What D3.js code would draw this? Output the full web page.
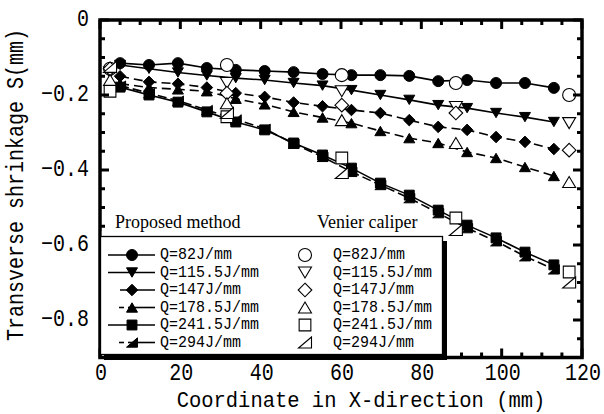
<!DOCTYPE html>
<html><head><meta charset="utf-8">
<script src="https://cdn.jsdelivr.net/npm/d3@7"></script>
<style>body{margin:0;background:#fff}svg{display:block}</style>
</head><body>
<svg id="c" width="604" height="414"></svg>
<script>
// ---- data ----
const xProposed = [5, 12.2, 19.4, 26.6, 33.8, 41, 48.2, 55.4, 62.6, 69.8, 77, 84.2, 91.4, 98.6, 105.8, 113];
const q82   = [-0.115, -0.12, -0.115, -0.128, -0.133, -0.136, -0.139, -0.144, -0.147, -0.147, -0.149, -0.163, -0.160, -0.168, -0.168, -0.181];
const q115  = [-0.12, -0.13, -0.14, -0.148, -0.155, -0.16, -0.168, -0.175, -0.187, -0.2, -0.213, -0.227, -0.235, -0.248, -0.259, -0.272];
const q147  = [-0.15, -0.165, -0.17, -0.18, -0.195, -0.205, -0.22, -0.23, -0.24, -0.248, -0.267, -0.285, -0.293, -0.312, -0.325, -0.344];
const q178  = [-0.17, -0.18, -0.185, -0.19, -0.21, -0.225, -0.245, -0.26, -0.275, -0.296, -0.315, -0.328, -0.352, -0.368, -0.392, -0.416];
const q241  = [-0.179, -0.2, -0.219, -0.245, -0.272, -0.293, -0.328, -0.36, -0.395, -0.435, -0.467, -0.507, -0.547, -0.581, -0.619, -0.653];
const q294  = [-0.175, -0.195, -0.215, -0.24, -0.265, -0.29, -0.33, -0.365, -0.405, -0.44, -0.475, -0.515, -0.555, -0.59, -0.63, -0.665];
const xVenier = [2.5, 31.6, 60.2, 88.6, 116.8];
const v82   = [-0.13, -0.12, -0.147, -0.168, -0.2];
const v115  = [-0.14, -0.168, -0.19, -0.232, -0.275];
const v147  = [-0.13, -0.195, -0.227, -0.248, -0.347];
const v178  = [-0.16, -0.222, -0.267, -0.328, -0.432];
const v241  = [-0.19, -0.258, -0.368, -0.528, -0.672];
const v294  = [-0.125, -0.248, -0.408, -0.56, -0.70];
const seriesLabels = ["Q=82J/mm", "Q=115.5J/mm", "Q=147J/mm", "Q=178.5J/mm", "Q=241.5J/mm", "Q=294J/mm"];
const xTicks = [0, 20, 40, 60, 80, 100, 120];
const yTicks = [0, -0.2, -0.4, -0.6, -0.8];
const yTickLabels = ["0", "\u22120.2", "\u22120.4", "\u22120.6", "\u22120.8"];
const xTitle = "Coordinate in X-direction (mm)";
const yTitle = "Transverse shrinkage S(mm)";
const legendHead = ["Proposed method", "Venier caliper"];

// ---- setup ----
const svg = d3.select("#c");
const x = d3.scaleLinear().domain([0, 120]).range([100, 582]);
const y = d3.scaleLinear().domain([0, -0.9]).range([20, 357.5]);
const shapes = ["circle", "tridown", "diamond", "triup", "square", "half"];
const dashes = [null, null, "9,5", "9,5", null, "9,4"];
const proposed = [q82, q115, q147, q178, q241, q294];
const venier = [v82, v115, v147, v178, v241, v294];

function markerPath(shape, s) {
  const h = s / 2;
  switch (shape) {
    case "circle": return d3.symbol(d3.symbolCircle, Math.PI * h * h)();
    case "tridown": return `M${-h},${-h*0.85}L${h},${-h*0.85}L0,${h*0.85}Z`;
    case "triup": return `M${-h},${h*0.85}L${h},${h*0.85}L0,${-h*0.85}Z`;
    case "diamond": return `M0,${-h*1.05}L${h*1.05},0L0,${h*1.05}L${-h*1.05},0Z`;
    case "square": return `M${-h*0.9},${-h*0.9}H${h*0.9}V${h*0.9}H${-h*0.9}Z`;
    case "half": return `M${-h},${h*0.85}L${h},${h*0.85}L${h},${-h*0.85}Z`;
  }
}
function drawMarker(g, shape, cx, cy, filled, s) {
  g.append("path").attr("d", markerPath(shape, s))
    .attr("transform", `translate(${cx},${cy})`)
    .attr("fill", filled ? "#000" : "#fff")
    .attr("stroke", "#000").attr("stroke-width", filled ? 1 : 1.1);
}

const plot = svg.append("g");
const line = d3.line().x(d => x(d[0])).y(d => y(d[1]));
proposed.forEach((vals, i) => {
  const pts = xProposed.map((xv, j) => [xv, vals[j]]);
  plot.append("path").attr("d", line(pts)).attr("fill", "none")
    .attr("stroke", "#000").attr("stroke-width", 1.6)
    .attr("stroke-dasharray", dashes[i]);
});
proposed.forEach((vals, i) => {
  xProposed.forEach((xv, j) => drawMarker(plot, shapes[i], x(xv), y(vals[j]), true, 11));
});
venier.forEach((vals, i) => {
  xVenier.forEach((xv, j) => drawMarker(plot, shapes[i], x(xv), y(vals[j]), false, 13));
});

// ---- frame and ticks ----
const fr = svg.append("g");
const minorX = d3.range(0, 121, 5), minorY = d3.range(0, -0.901, -0.05);
minorX.forEach(v => {
  const major = Math.abs(v % 20) < 1e-6;
  const L = major ? 9 : 5;
  fr.append("line").attr("x1", x(v)).attr("x2", x(v)).attr("y1", 20).attr("y2", 20 + L).attr("stroke", "#000").attr("stroke-width", 3);
  fr.append("line").attr("x1", x(v)).attr("x2", x(v)).attr("y1", 357.5).attr("y2", 357.5 - L).attr("stroke", "#000").attr("stroke-width", 3);
});
minorY.forEach((v, k) => {
  const major = k % 4 === 0;
  const L = major ? 9 : 5;
  fr.append("line").attr("y1", y(v)).attr("y2", y(v)).attr("x1", 100).attr("x2", 100 + L).attr("stroke", "#000").attr("stroke-width", 3);
  fr.append("line").attr("y1", y(v)).attr("y2", y(v)).attr("x1", 582).attr("x2", 582 - L).attr("stroke", "#000").attr("stroke-width", 3);
});
fr.append("rect").attr("x", 100).attr("y", 20).attr("width", 482).attr("height", 337.5)
  .attr("fill", "none").attr("stroke", "#000").attr("stroke-width", 3.5);

// ---- tick labels ----
function stretchedText(g, txt, tx, ty, size, sy, anchor) {
  return g.append("text").text(txt)
    .attr("transform", `translate(${tx},${ty}) scale(1,${sy})`)
    .attr("text-anchor", anchor).attr("dominant-baseline", "central")
    .attr("font-family", "Liberation Mono, DejaVu Sans Mono, monospace")
    .attr("font-size", size).attr("fill", "#000");
}
const lab = svg.append("g");
yTicks.forEach((v, i) => stretchedText(lab, yTickLabels[i], 89, y(v), 20, 1.2, "end"));
xTicks.forEach(v => stretchedText(lab, String(v), x(v) + 1, 374, 20, 1.15, "middle"));
stretchedText(lab, xTitle, 361, 401, 20.5, 1.05, "middle");
lab.append("text").text(yTitle)
  .attr("transform", `translate(17,185) rotate(-90) scale(1,1.15)`)
  .attr("text-anchor", "middle").attr("dominant-baseline", "central")
  .attr("font-family", "Liberation Mono, DejaVu Sans Mono, monospace")
  .attr("font-size", 20).attr("fill", "#000");

// ---- legend ----
const lg = svg.append("g");
lg.append("rect").attr("x", 101.8).attr("y", 231).attr("width", 341).attr("height", 7).attr("fill", "#fff");
lg.append("line").attr("x1", 100.5).attr("x2", 100.5).attr("y1", 230).attr("y2", 240).attr("stroke", "#000").attr("stroke-width", 1.2);
lg.append("text").text(legendHead[0]).attr("x", 115).attr("y", 228)
  .attr("font-family", "Liberation Serif, Times New Roman, serif").attr("font-size", 18);
lg.append("text").text(legendHead[1]).attr("x", 317).attr("y", 228)
  .attr("font-family", "Liberation Serif, Times New Roman, serif").attr("font-size", 18);
lg.append("rect").attr("x", 104).attr("y", 241).attr("width", 343).attr("height", 119).attr("fill", "#000");
lg.append("rect").attr("x", 100.5).attr("y", 236.5).attr("width", 342).attr("height", 118)
  .attr("fill", "#fff").attr("stroke", "#000").attr("stroke-width", 1.3);
const rowY = d3.range(6).map(i => 255 + i * 17.5);
const legLineX = [[108, 155], [108, 155], [120, 155], [128, 155], [108, 155], [128, 155]];
seriesLabels.forEach((t, i) => {
  lg.append("line").attr("x1", legLineX[i][0]).attr("x2", legLineX[i][1]).attr("y1", rowY[i]).attr("y2", rowY[i])
    .attr("stroke", "#000").attr("stroke-width", 1.6);
  if (i === 3 || i === 5) {
    lg.append("line").attr("x1", 119).attr("x2", 124).attr("y1", rowY[i]).attr("y2", rowY[i]).attr("stroke", "#000").attr("stroke-width", 1.6);
  }
  drawMarker(lg, shapes[i], 132, rowY[i], true, 11);
  drawMarker(lg, shapes[i], 305, rowY[i], false, 13);
  stretchedText(lg, t, 160, rowY[i], 15, 1.1, "start");
  stretchedText(lg, t, 333, rowY[i], 15, 1.1, "start");
});
</script>
</body></html>
